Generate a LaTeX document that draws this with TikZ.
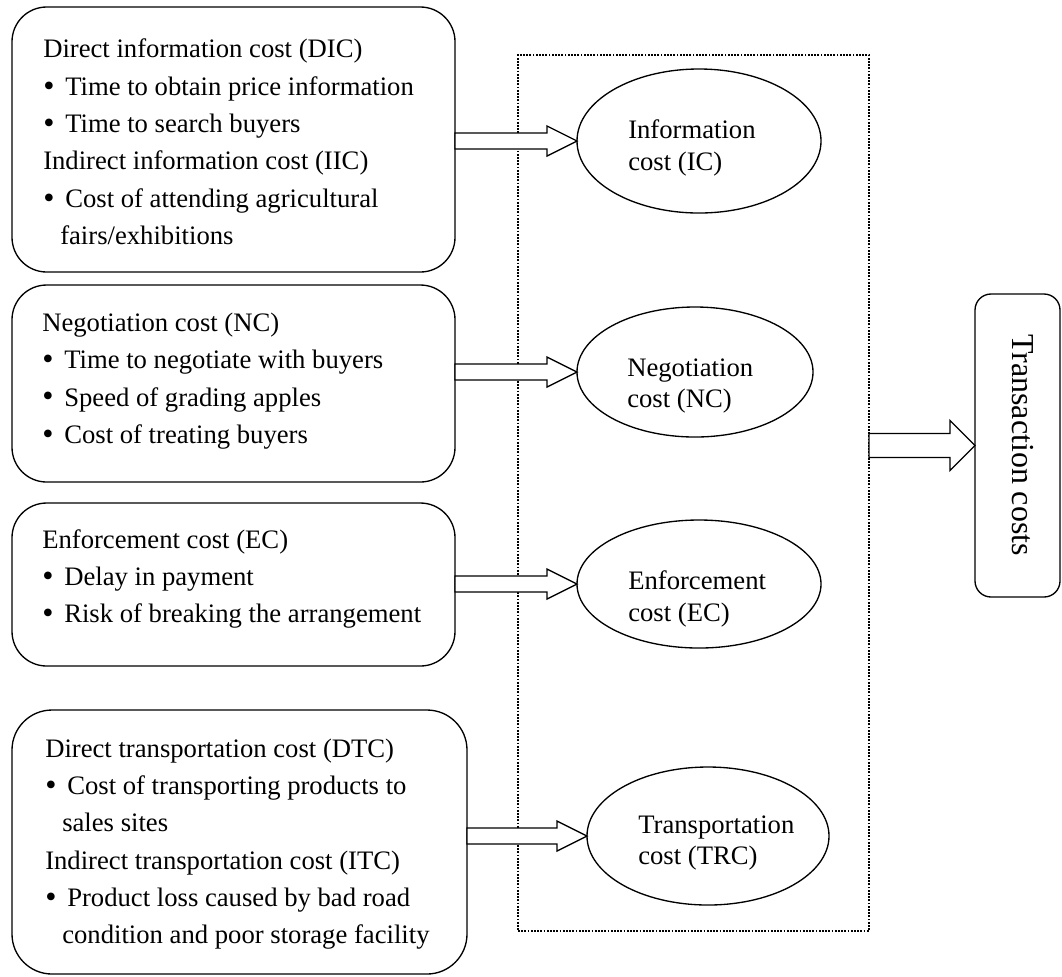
\documentclass[tikz,border=0pt]{standalone}
\usepackage{fontspec}
\setmainfont{Liberation Serif}
\usetikzlibrary{shapes.geometric,calc}
\tikzset{
  box/.style={draw, line width=1pt, rounded corners=26pt, inner sep=0pt, outer sep=0pt},
  txt/.style={anchor=west, align=left, inner sep=0pt, font=\fontsize{20}{28}\selectfont},
  oval/.style={draw, ellipse, line width=1pt, inner sep=0pt, outer sep=0pt},
  otxt/.style={anchor=west, align=left, inner sep=0pt, font=\fontsize{20}{23.5}\selectfont},
  dotbox/.style={draw, densely dotted, line width=1.4pt, inner sep=0pt, outer sep=0pt},
  harr/.style={draw, line width=1pt, fill=white, line join=miter},
}
\newcommand\bul{\makebox[16.5pt][l]{\raisebox{-0.6pt}{\fontsize{24}{24}\selectfont •}}}
\newcommand\ind{\hspace*{12.75pt}}
% start, end, shaft half, head half, head length
\newcommand\hollowarrow[5]{%
  \path[harr] let \p1=#1, \p2=#2 in
    (\x1,\y1+#3) -- (\x2-#5,\y1+#3) -- (\x2-#5,\y1+#4) -- (\x2,\y1)
    -- (\x2-#5,\y1-#4) -- (\x2-#5,\y1-#3) -- (\x1,\y1-#3) -- cycle;}
\begin{document}
\begin{tikzpicture}[x=0.75pt,y=-0.75pt]
\useasboundingbox (0,0) rectangle (1062,976);

% left boxes
\node[box, minimum width=332.25pt, minimum height=198.75pt] (b1) at (233.5,139.5) {};
\node[box, minimum width=332.25pt, minimum height=147.75pt] (b2) at (233.5,383.5) {};
\node[box, minimum width=332.25pt, minimum height=122.25pt] (b3) at (233.5,584.5) {};
\node[box, rounded corners=30pt, minimum width=341.25pt, minimum height=198pt] (b4) at (239.5,842) {};

\node[txt] (t1) at (43,142) {Direct information cost (DIC)\\
  \bul Time to obtain price information\\
  \bul Time to search buyers\\
  Indirect information cost (IIC)\\
  \bul Cost of attending agricultural\\
  \ind fairs/exhibitions};
\node[txt] (t2) at (42,381) {Negotiation cost (NC)\\
  \bul Time to negotiate with buyers\\
  \bul Speed of grading apples\\
  \bul Cost of treating buyers};
\node[txt] (t3) at (42,579) {Enforcement cost (EC)\\
  \bul Delay in payment\\
  \bul Risk of breaking the arrangement};
\node[txt] (t4) at (45,844) {Direct transportation cost (DTC)\\
  \bul Cost of transporting products to\\
  \ind sales sites\\
  Indirect transportation cost (ITC)\\
  \bul Product loss caused by bad road\\
  \ind condition and poor storage facility};

% dotted frame
\node[dotbox, minimum width=263.25pt, minimum height=657pt] (frame) at (693.5,493) {};

% ellipses
\node[oval, minimum width=183pt, minimum height=108pt] (e1) at (699,141) {};
\node[oval, minimum width=177pt, minimum height=97.5pt] (e2) at (695,372) {};
\node[oval, minimum width=183pt, minimum height=96pt] (e3) at (699,584) {};
\node[oval, minimum width=181.5pt, minimum height=103.5pt] (e4) at (708,836) {};
\node[otxt] (l1) at (628,148) {Information\\cost (IC)};
\node[otxt] (l2) at (627,386) {Negotiation\\cost (NC)};
\node[otxt] (l3) at (628,599) {Enforcement\\cost (EC)};
\node[otxt] (l4) at (638,843) {Transportation\\cost (TRC)};

% transaction costs
\node[box, rounded corners=12pt, minimum width=63.75pt, minimum height=227.25pt] (tc) at (1017.5,445.5) {};
\node[rotate=-90, inner sep=0pt, font=\fontsize{24}{24}\selectfont] (tct) at (1023,445) {Transaction costs};

% hollow arrows
\hollowarrow{(e1.west -| b1.east)}{(e1.west)}{6pt}{11.25pt}{22.5pt}
\hollowarrow{(e2.west -| b2.east)}{(e2.west)}{6pt}{11.25pt}{22.5pt}
\hollowarrow{(e3.west -| b3.east)}{(e3.west)}{6pt}{11.25pt}{22.5pt}
\hollowarrow{(e4.west -| b4.east)}{(e4.west)}{6pt}{11.25pt}{22.5pt}
\hollowarrow{(tc.west -| frame.east)}{(tc.west)}{9pt}{18.75pt}{18.75pt}
\end{tikzpicture}
\end{document}
